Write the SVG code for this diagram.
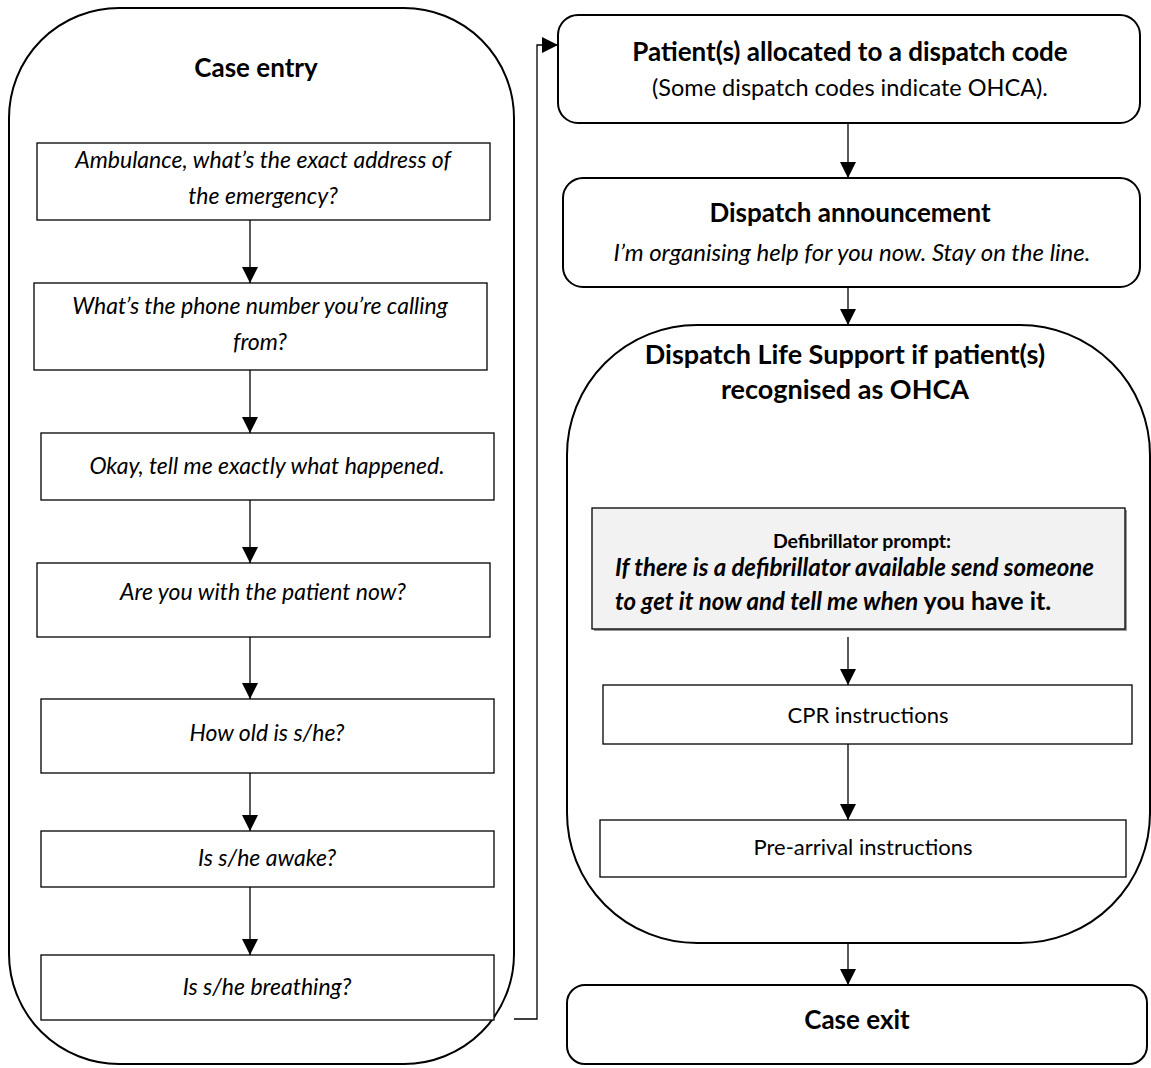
<svg xmlns="http://www.w3.org/2000/svg" width="1151" height="1068" viewBox="0 0 1151 1068">
<style>
text{font-family:Lato,"Open Sans","Liberation Sans",sans-serif;fill:#000;text-anchor:middle}
.cont{fill:#fff;stroke:#000;stroke-width:2}
.box{fill:#fff;stroke:#000;stroke-width:1.3}
.grey{fill:#f2f2f2;stroke:#000;stroke-width:1.3}
.t{font-size:26px;font-weight:bold}
.q{font-size:23px;font-style:italic}
.n{font-size:22px}
.d{font-size:24px;font-weight:bold;font-style:italic;text-anchor:start}
.con{fill:none;stroke:#000;stroke-width:1.3}
</style>
<defs>
<marker id="ah" markerUnits="userSpaceOnUse" markerWidth="16" markerHeight="18" refX="16" refY="8" orient="auto">
<path d="M0,0 L16,8 L0,16 Z" fill="#000"/>
</marker>
</defs>
<g id="case-entry">
<rect class="cont" x="9" y="8" width="505" height="1056" rx="110" ry="110"/>
<text class="t" x="256" y="77">Case entry</text>
</g>
<g id="q1"><rect class="box" x="37" y="143" width="453" height="77"/>
<text class="q" x="263" y="168">Ambulance, what’s the exact address of</text>
<text class="q" x="263" y="204">the emergency?</text></g>
<g id="q2"><rect class="box" x="34" y="283" width="453" height="87"/>
<text class="q" x="260" y="314">What’s the phone number you’re calling</text>
<text class="q" x="260" y="350">from?</text></g>
<g id="q3"><rect class="box" x="41" y="433" width="453" height="67"/>
<text class="q" x="267" y="474">Okay, tell me exactly what happened.</text></g>
<g id="q4"><rect class="box" x="37" y="563" width="453" height="74"/>
<text class="q" x="263" y="600">Are you with the patient now?</text></g>
<g id="q5"><rect class="box" x="41" y="699" width="453" height="74"/>
<text class="q" x="267" y="741">How old is s/he?</text></g>
<g id="q6"><rect class="box" x="41" y="831" width="453" height="56"/>
<text class="q" x="267" y="866">Is s/he awake?</text></g>
<g id="q7"><rect class="box" x="41" y="955" width="453" height="65"/>
<text class="q" x="267" y="995">Is s/he breathing?</text></g>
<g id="allocated">
<rect class="cont" x="558" y="15" width="582" height="108" rx="20" ry="20"/>
<text class="t" x="850" y="61">Patient(s) allocated to a dispatch code</text>
<text class="n" x="850" y="96" style="font-size:23.5px">(Some dispatch codes indicate OHCA).</text>
</g>
<g id="announcement">
<rect class="cont" x="563" y="178" width="577" height="109" rx="20" ry="20"/>
<text class="t" x="850" y="222">Dispatch announcement</text>
<text class="q" x="852" y="261" style="font-size:24px">I’m organising help for you now. Stay on the line.</text>
</g>
<g id="dls">
<rect class="cont" x="567" y="325" width="583" height="618" rx="130" ry="130"/>
<text class="t" x="845" y="364" style="font-size:27px">Dispatch Life Support if patient(s)</text>
<text class="t" x="845" y="399" style="font-size:27px">recognised as OHCA</text>
</g>
<g id="defib">
<rect x="594" y="510" width="533" height="121" fill="#999"/>
<rect class="grey" x="592" y="508" width="533" height="121"/>
<text x="862" y="548" style="font-size:19.5px;font-weight:bold">Defibrillator prompt:</text>
<text class="d" x="615" y="576">If there is a defibrillator available send someone</text>
<text class="d" x="615" y="610">to get it now and tell me when <tspan style="font-size:25px;font-style:normal">you have it.</tspan></text>
</g>
<g id="cpr"><rect class="box" x="603" y="685" width="529" height="59"/>
<text class="n" x="868" y="723">CPR instructions</text></g>
<g id="prearrival"><rect class="box" x="600" y="820" width="526" height="57"/>
<text class="n" x="863" y="855">Pre-arrival instructions</text></g>
<g id="case-exit">
<rect class="cont" x="567" y="985" width="580" height="79" rx="18" ry="18"/>
<text class="t" x="857" y="1029">Case exit</text>
</g>
<g id="connectors">
<path class="con" d="M250,220 V283" marker-end="url(#ah)"/>
<path class="con" d="M250,370 V433" marker-end="url(#ah)"/>
<path class="con" d="M250,500 V563" marker-end="url(#ah)"/>
<path class="con" d="M250,637 V699" marker-end="url(#ah)"/>
<path class="con" d="M250,773 V831" marker-end="url(#ah)"/>
<path class="con" d="M250,887 V955" marker-end="url(#ah)"/>
<path class="con" d="M514,1019 H537 V45 H558" marker-end="url(#ah)"/>
<path class="con" d="M848,123 V178" marker-end="url(#ah)"/>
<path class="con" d="M848,287 V325" marker-end="url(#ah)"/>
<path class="con" d="M848,637 V685" marker-end="url(#ah)"/>
<path class="con" d="M848,744 V820" marker-end="url(#ah)"/>
<path class="con" d="M848,943 V985" marker-end="url(#ah)"/>
</g>
</svg>
